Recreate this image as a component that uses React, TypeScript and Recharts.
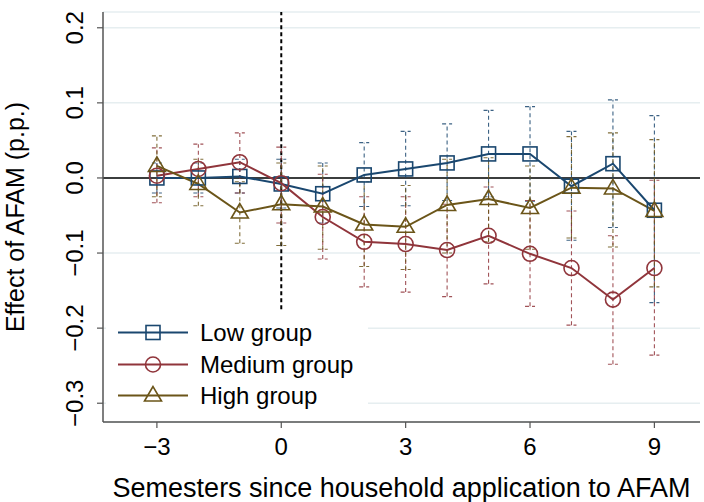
import {
  ComposedChart,
  Line,
  XAxis,
  YAxis,
  CartesianGrid,
  ReferenceLine,
  ErrorBar,
  Legend,
} from 'recharts';

const semesters = [-3, -2, -1, 0, 1, 2, 3, 4, 5, 6, 7, 8, 9];

const lowEffect = [0.0, 0.0, 0.002, -0.008, -0.021, 0.004, 0.012, 0.02, 0.032, 0.032, -0.011, 0.019, -0.043];
const lowCiLow = [-0.02, -0.02, -0.02, -0.04, -0.06, -0.038, -0.037, -0.03, -0.025, -0.031, -0.083, -0.066, -0.166];
const lowCiHigh = [0.02, 0.02, 0.025, 0.025, 0.02, 0.047, 0.062, 0.072, 0.09, 0.095, 0.062, 0.104, 0.083];

const mediumEffect = [0.003, 0.012, 0.021, -0.007, -0.052, -0.085, -0.088, -0.096, -0.077, -0.101, -0.12, -0.162, -0.12];
const mediumCiLow = [-0.033, -0.025, -0.02, -0.06, -0.108, -0.145, -0.152, -0.158, -0.141, -0.171, -0.196, -0.248, -0.236];
const mediumCiHigh = [0.04, 0.045, 0.06, 0.041, 0.005, -0.025, -0.025, -0.035, -0.012, -0.03, -0.044, -0.077, -0.003];

const highEffect = [0.016, -0.008, -0.046, -0.035, -0.038, -0.062, -0.065, -0.036, -0.028, -0.04, -0.013, -0.014, -0.044];
const highCiLow = [-0.025, -0.037, -0.087, -0.09, -0.095, -0.118, -0.122, -0.1, -0.085, -0.095, -0.08, -0.092, -0.145];
const highCiHigh = [0.056, 0.025, -0.005, 0.02, 0.016, -0.005, -0.01, 0.025, 0.027, 0.016, 0.055, 0.06, 0.051];

const xTicks = [-3, 0, 3, 6, 9];
const yTicks = [-0.3, -0.2, -0.1, 0, 0.1, 0.2];

const LOW = '#1a476f';
const MED = '#90353b';
const HIGH = '#6b5519';
const FONT = '"Liberation Sans", Arial, Helvetica, sans-serif';

const data = semesters.map((s, i) => ({
  s,
  low: lowEffect[i],
  lowErr: [lowEffect[i] - lowCiLow[i], lowCiHigh[i] - lowEffect[i]],
  medium: mediumEffect[i],
  mediumErr: [mediumEffect[i] - mediumCiLow[i], mediumCiHigh[i] - mediumEffect[i]],
  high: highEffect[i],
  highErr: [highEffect[i] - highCiLow[i], highCiHigh[i] - highEffect[i]],
}));

const fmt = (v: number) => {
  const s = Math.abs(v) < 1e-9 ? '0' : String(Math.round(v * 10) / 10);
  return s.replace('-', '\u2212');
};
const fmtY = (v: number) => {
  const s = (Math.abs(v) < 1e-9 ? 0 : v).toFixed(1);
  return s.replace('-', '\u2212');
};

function SquareMark({ cx, cy, color }: any) {
  return <rect x={cx - 7} y={cy - 7} width={14} height={14} fill="none" stroke={color} strokeWidth={1.6} />;
}
function CircleMark({ cx, cy, color }: any) {
  return <circle cx={cx} cy={cy} r={7.5} fill="none" stroke={color} strokeWidth={1.6} />;
}
function TriangleMark({ cx, cy, color }: any) {
  return (
    <polygon
      points={`${cx},${cy - 9} ${cx - 8.5},${cy + 5.5} ${cx + 8.5},${cy + 5.5}`}
      fill="none"
      stroke={color}
      strokeWidth={1.6}
    />
  );
}

const series = [
  { key: 'low', err: 'lowErr', name: 'Low group', color: LOW, Mark: SquareMark },
  { key: 'medium', err: 'mediumErr', name: 'Medium group', color: MED, Mark: CircleMark },
  { key: 'high', err: 'highErr', name: 'High group', color: HIGH, Mark: TriangleMark },
];

function XTick({ x, y, payload }: any) {
  return (
    <text x={x} y={y + 25} textAnchor="middle" fontSize={24} fontFamily={FONT} fill="#000">
      {fmt(payload.value)}
    </text>
  );
}

function YTick({ x, y, payload }: any) {
  const tx = x - 12;
  return (
    <text
      x={tx}
      y={y}
      transform={`rotate(-90, ${tx}, ${y})`}
      textAnchor="middle"
      fontSize={24}
      fontFamily={FONT}
      fill="#000"
    >
      {fmtY(payload.value)}
    </text>
  );
}

function LegendBox() {
  return (
    <div style={{ background: '#fff', width: 262, height: 100, fontFamily: FONT, fontSize: 24 }}>
      {series.map((s, i) => (
        <div key={s.key} style={{ position: 'absolute', left: 0, top: 3 + i * 31.5, height: 31, display: 'flex', alignItems: 'center' }}>
          <svg width={84} height={31} style={{ display: 'block' }}>
            <line x1={12} x2={82} y1={15.5} y2={15.5} stroke={s.color} strokeWidth={2} />
            <s.Mark cx={47} cy={15.5} color={s.color} />
          </svg>
          <span style={{ marginLeft: 10, color: '#000', lineHeight: '31px' }}>{s.name}</span>
        </div>
      ))}
    </div>
  );
}

export default function App() {
  return (
    <div style={{ width: 704, height: 502, background: '#fff', position: 'relative' }}>
      <style>{'body{margin:0}'}</style>
      <ComposedChart
        width={704}
        height={502}
        data={data}
        margin={{ top: 12, right: 4, bottom: 0, left: 0 }}
        style={{ fontFamily: FONT }}
      >
        <CartesianGrid horizontal vertical={false} stroke="#e6eef0" strokeWidth={1.5} />
        <XAxis
          dataKey="s"
          type="number"
          domain={[-4.3, 10.1]}
          ticks={xTicks}
          allowDataOverflow
          height={80}
          tick={<XTick />}
          tickSize={6}
          axisLine={{ stroke: '#555', strokeWidth: 1.5 }}
          tickLine={{ stroke: '#555', strokeWidth: 1.2 }}
          label={(props: any) => {
            const vb = props.viewBox || { x: 103, y: 422, width: 597 };
            return (
              <text x={vb.x + vb.width / 2} y={vb.y + 75} textAnchor="middle" fontSize={27} fontFamily={FONT} fill="#000">
                Semesters since household application to AFAM
              </text>
            );
          }}
        />
        <YAxis
          type="number"
          domain={[-0.325, 0.221]}
          ticks={yTicks}
          allowDataOverflow
          width={103}
          tick={<YTick />}
          tickSize={6}
          axisLine={{ stroke: '#555', strokeWidth: 1.5 }}
          tickLine={{ stroke: '#555', strokeWidth: 1.2 }}
          label={(props: any) => {
            const vb = props.viewBox || { y: 12, height: 410 };
            const cy = vb.y + vb.height / 2;
            return (
              <text x={24} y={cy} transform={`rotate(-90, 24, ${cy})`} textAnchor="middle" fontSize={25} fontFamily={FONT} fill="#000">
                Effect of AFAM (p.p.)
              </text>
            );
          }}
        />
        <ReferenceLine y={0} stroke="#000" strokeWidth={1.6} />
        <ReferenceLine
          segment={[{ x: 0, y: -0.175 }, { x: 0, y: 0.221 }]}
          stroke="#000"
          strokeWidth={2}
          strokeDasharray="4 3"
        />
        {series.map((s) => (
          <Line
            key={`${s.key}-ci`}
            dataKey={s.key}
            stroke="none"
            dot={false}
            activeDot={false}
            legendType="none"
            isAnimationActive={false}
          >
            <ErrorBar
              dataKey={s.err}
              direction="y"
              width={5}
              stroke={s.color}
              strokeWidth={1.1}
              strokeDasharray="4 3"
              strokeOpacity={0.85}
              isAnimationActive={false}
            />
          </Line>
        ))}
        {series.map((s) => (
          <Line
            key={s.key}
            dataKey={s.key}
            name={s.name}
            stroke={s.color}
            strokeWidth={2}
            isAnimationActive={false}
            activeDot={false}
            dot={(p: any) => <s.Mark key={`${s.key}-${p.index}`} cx={p.cx} cy={p.cy} color={s.color} />}
          />
        ))}
        <Legend
          layout="horizontal"
          verticalAlign="middle"
          align="center"
          content={() => <LegendBox />}
          wrapperStyle={{ left: 106, top: 314, width: 262, height: 100 }}
        />
      </ComposedChart>
    </div>
  );
}
